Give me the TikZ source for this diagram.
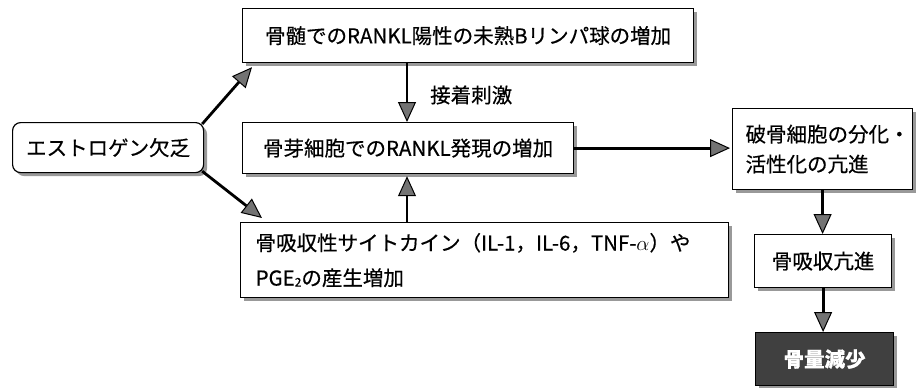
\documentclass[tikz,border=0pt]{standalone}
\usepackage{fontspec}
\setmainfont{Noto Sans CJK JP}[FakeBold=0.5]
\usetikzlibrary{arrows.meta,shadows}
\tikzset{
  box/.style={draw, line width=1.2pt, fill=white,
    drop shadow={shadow xshift=3.5pt, shadow yshift=-3.5pt, fill=gray!80, opacity=1},
    anchor=north west, inner sep=0pt, font=\fontsize{20.5}{30}\selectfont},
  arr/.style={line width=2.8pt, -{Triangle[length=20pt,width=18pt,fill=black!55,line width=1pt]}},
  lbl/.style={anchor=west, inner sep=0pt, font=\fontsize{20.5}{30}\selectfont},
}
\begin{document}
\begin{tikzpicture}[x=1pt,y=-1pt]
\useasboundingbox (0,0) rectangle (916,388);
\node[box, rounded corners=8pt, minimum width=191pt, minimum height=50pt] (est) at (12,122) {エストロゲン欠乏};
\node[box, minimum width=451pt, minimum height=54pt] (top) at (242,8) {骨髄でのRANKL陽性の未熟Bリンパ球の増加};
\node[box, minimum width=331pt, minimum height=51pt] (mid) at (242,122) {骨芽細胞でのRANKL発現の増加};
\node[box, minimum width=488pt, minimum height=75pt, inner xsep=15pt, text width=458pt, align=left, font=\fontsize{20.5}{35}\selectfont] (bot) at (240,222)
  {骨吸収性サイトカイン（IL-1，IL-6，TNF-$\alpha$）や\\PGE\raisebox{-1pt}{\fontsize{12}{12}\selectfont 2}の産生増加};
\node[box, minimum width=180pt, minimum height=81pt, inner xsep=13pt, text width=154pt, align=left] (ocl) at (732,108)
  {破骨細胞の分化・\\活性化の亢進};
\node[box, minimum width=137pt, minimum height=53pt] (br) at (754,234) {骨吸収亢進};
\node[box, fill=black!75, text=white, minimum width=138pt, minimum height=53pt, font=\fontsize{20.5}{30}\selectfont\bfseries] (loss) at (755,332) {骨量減少};
\node[lbl] (adh) at (430,95) {接着刺激};
\coordinate (cx) at (407,0);
\draw[arr] (cx |- top.south) -- (cx |- mid.north);
\draw[arr] (cx |- bot.north) -- ([yshift=-2pt]cx |- mid.south);
\draw[arr] ([shift={(-2,2)}]est.north east) -- ([shift={(10,4)}]top.south west);
\draw[arr] ([shift={(-2,-2)}]est.south east) -- ([shift={(22,-4)}]bot.north west);
\draw[arr] (mid.east) -- ([xshift=-2pt]ocl.west |- mid.east);
\draw[arr] (ocl.south) -- (ocl.south |- br.north);
\draw[arr] (br.south) -- (br.south |- loss.north);
\end{tikzpicture}
\end{document}
